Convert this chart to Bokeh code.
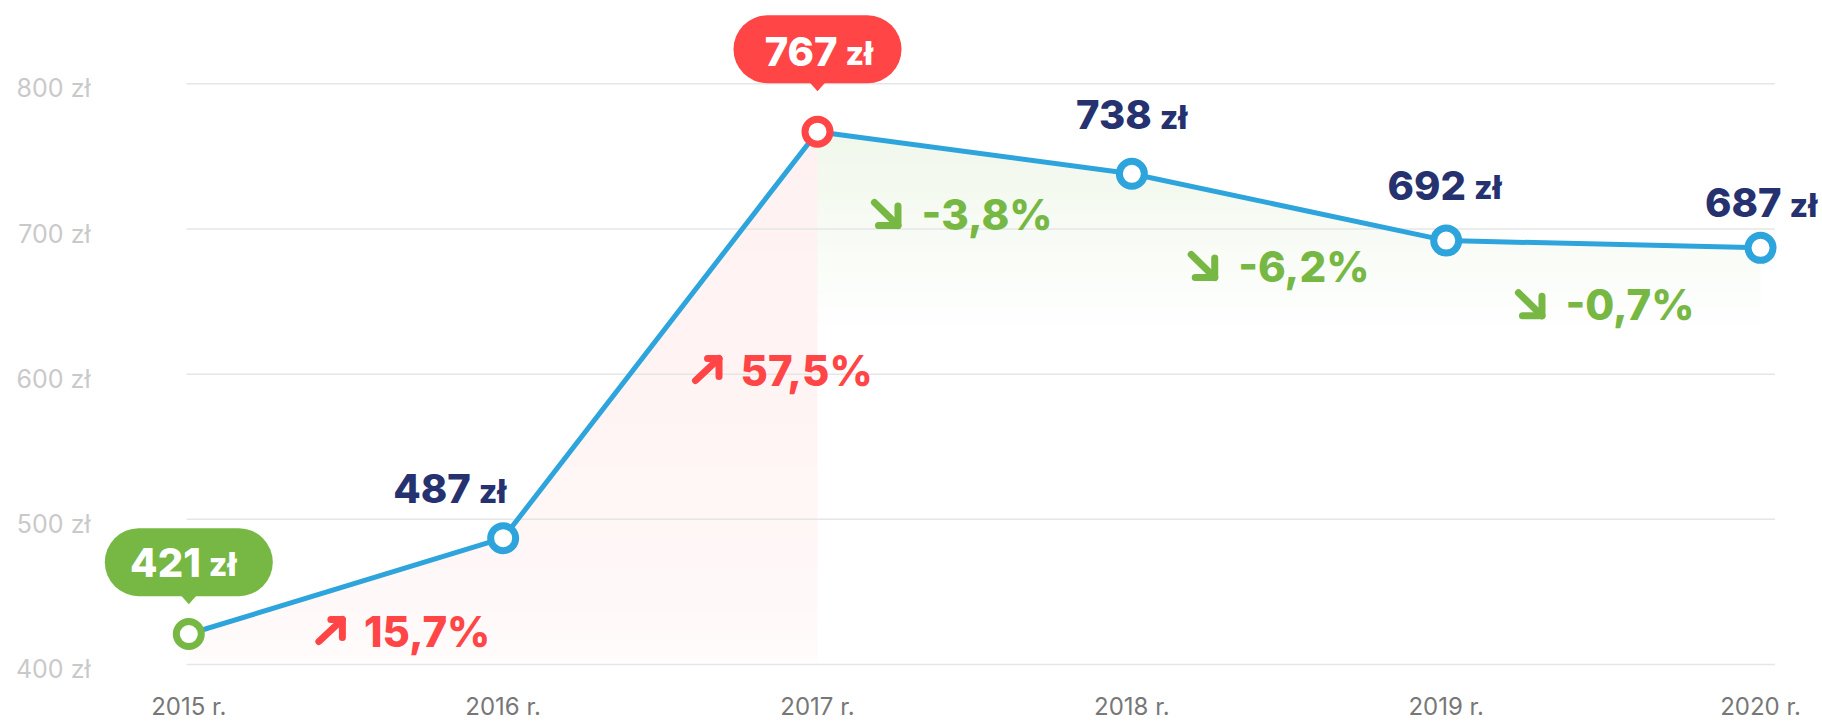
import numpy as np
from bokeh.plotting import figure
from bokeh.models import Range1d, FixedTicker, LinearAxis
from bokeh.core.properties import value
from bokeh.embed import file_html
from bokeh.resources import INLINE

# ---------------- data ----------------
YEARS = [2015, 2016, 2017, 2018, 2019, 2020]
YEAR_LABELS = ["2015 r.", "2016 r.", "2017 r.", "2018 r.", "2019 r.", "2020 r."]
PRICES = [421, 487, 767, 738, 692, 687]
Y_TICKS = [400, 500, 600, 700, 800]
Y_TICK_LABELS = ["400 zł", "500 zł", "600 zł", "700 zł", "800 zł"]
CURRENCY = "zł"

# ---------------- style ----------------
FONT = "Inter"
HEAVY = "'Inter ExtraBold', Inter"
BLUE = "#2ea4dc"
NAVY = "#26316f"
RED = "#ff4545"
GREEN = "#76b843"
GRID = "#e6e6e6"
YLAB = "#c9c9c9"
XLAB = "#777777"

NUM_SIZE = 40
CUR_SIZE = 32
PCT_SIZE = 42
BASE_FIX = 0.36        # em, compensates text baseline placement

W, H = 1822, 724
FRAME_L, FRAME_R, FRAME_T, FRAME_B = 96, 1822, 0, 691
X0_PX = 188.3          # x of first year
PX_X = 314.35          # px per year
V0_PX = 664.0          # y of lowest tick
PX_Y = 1.4518          # px per zł

X_LO = YEARS[0] + (FRAME_L - X0_PX) / PX_X
X_HI = YEARS[0] + (FRAME_R - X0_PX) / PX_X
Y_LO = Y_TICKS[0] - (FRAME_B - V0_PX) / PX_Y
Y_HI = Y_TICKS[0] + (V0_PX - FRAME_T) / PX_Y

# label placement (screen px, +dy = down; baselines)
LABEL_DX = [16.0, -28.4, 24.0, 23.9, 23.7, 25.0]
LABEL_DY = [-57.5, -35.0, -66.2, -45.0, -41.1, -30.6]
BUBBLE_DY = {"min": -71.8, "max": -82.4}
PCT_DX = [17.9, 80.2, -53.2, -50.8, -37.9]
PCT_DY = [60.4, 50.6, 76.8, 74.3, 75.6]

i_min = int(np.argmin(PRICES))
i_max = int(np.argmax(PRICES))


def dxd(px):
    return px / PX_X


def dyd(px):
    return -px / PX_Y


p = figure(width=W, height=H, output_backend="svg", toolbar_location=None, tools="",
           x_range=Range1d(X_LO, X_HI), y_range=Range1d(Y_LO, Y_HI),
           y_axis_location=None,
           min_border_left=FRAME_L, min_border_right=W - FRAME_R,
           min_border_top=FRAME_T, min_border_bottom=H - FRAME_B,
           background_fill_color="white", border_fill_color="white")
p.outline_line_color = None
p.xgrid.visible = False
p.ygrid.visible = False


# ---------------- gradient fills under the line ----------------
def fill_image(i0, i1, rgb, a_max, depth, gamma):
    x0, x1 = YEARS[i0], YEARS[i1]
    v_top = max(PRICES[i0:i1 + 1])
    v_floor = max(Y_TICKS[0], v_top - depth)
    nx = int((x1 - x0) * PX_X / 2)
    ny = int((v_top - v_floor) * PX_Y / 2) + 2
    y1 = v_top + 2 / PX_Y
    xs = x0 + (np.arange(nx) + 0.5) * (x1 - x0) / nx
    ys = v_floor + (np.arange(ny) + 0.5) * (y1 - v_floor) / ny
    line_y = np.interp(xs, YEARS, PRICES)
    pix = (y1 - v_floor) / ny
    cover = np.clip((line_y[None, :] - ys[:, None]) / pix + 0.5, 0, 1)
    grad = np.clip((ys - (v_top - depth)) / depth, 0, 1) ** gamma
    alpha = a_max * grad[:, None] * cover
    img = np.zeros((ny, nx), dtype=np.uint32)
    view = img.view(dtype=np.uint8).reshape((ny, nx, 4))
    view[..., 0] = rgb[0]
    view[..., 1] = rgb[1]
    view[..., 2] = rgb[2]
    view[..., 3] = np.round(alpha * 255).astype(np.uint8)
    p.image_rgba(image=[img], x=x0, y=v_floor, dw=x1 - x0, dh=y1 - v_floor)


fill_image(0, i_max, (255, 69, 69), 0.075, max(PRICES) - Y_TICKS[0], 0.35)
fill_image(i_max, len(YEARS) - 1, (118, 184, 67), 0.11, 140, 1.0)

# ---------------- grid lines ----------------
gx0 = YEARS[0] + (186 - X0_PX) / PX_X
gx1 = YEARS[0] + (1774.4 - X0_PX) / PX_X
p.segment(x0=[gx0] * len(Y_TICKS), x1=[gx1] * len(Y_TICKS), y0=Y_TICKS, y1=Y_TICKS,
          line_color=GRID, line_width=1.5)

# ---------------- line + markers ----------------
p.line(YEARS, PRICES, line_width=5, line_color=BLUE, line_join="round")
pt_colors = [GREEN if i == i_min else RED if i == i_max else BLUE for i in range(len(YEARS))]
p.scatter(YEARS, PRICES, size=25, line_width=7, fill_color="white", line_color=pt_colors)

# ---------------- bubbles for min / max ----------------
for key, idx, col in (("min", i_min, GREEN), ("max", i_max, RED)):
    cy = PRICES[idx] + dyd(BUBBLE_DY[key])
    p.rect(x=[YEARS[idx]], y=[cy], width=168, height=68, width_units="screen",
           height_units="screen", fill_color=col, line_color=None, border_radius=34)
    yb = PRICES[idx] + dyd(BUBBLE_DY[key] + 33)
    yt = PRICES[idx] + dyd(BUBBLE_DY[key] + 42)
    p.patch(x=[YEARS[idx] - dxd(8), YEARS[idx] + dxd(8), YEARS[idx]], y=[yb, yb, yt],
            fill_color=col, line_color=None)

# ---------------- value labels ----------------
for i, (yr, pr) in enumerate(zip(YEARS, PRICES)):
    col = "white" if i in (i_min, i_max) else NAVY
    p.text(x=[yr], y=[pr], text=[str(pr)], x_offset=LABEL_DX[i] - 4,
           y_offset=LABEL_DY[i] - BASE_FIX * NUM_SIZE,
           text_align="right", text_baseline="alphabetic", text_font=value(HEAVY),
           text_font_style="bold", text_font_size=f"{NUM_SIZE}px", text_color=col)
    p.text(x=[yr], y=[pr], text=[CURRENCY], x_offset=LABEL_DX[i] + 4,
           y_offset=LABEL_DY[i] - BASE_FIX * CUR_SIZE,
           text_align="left", text_baseline="alphabetic", text_font=value(HEAVY),
           text_font_style="bold", text_font_size=f"{CUR_SIZE}px", text_color=col)

# ---------------- percentage changes ----------------
UP = [[(-45, -5), (-21.5, -27)], [(-33, -27), (-21.5, -27), (-21.5, -9)]]
DOWN = [[(-47, -27), (-23.5, -4)], [(-43, -4), (-23.5, -4), (-23.5, -23.5)]]
for i in range(len(YEARS) - 1):
    change = (PRICES[i + 1] / PRICES[i] - 1) * 100
    txt = f"{change:.1f}".replace(".", ",") + "%"
    col = RED if change > 0 else GREEN
    mx = (YEARS[i] + YEARS[i + 1]) / 2
    mv = (PRICES[i] + PRICES[i + 1]) / 2
    p.text(x=[mx], y=[mv], text=[txt], x_offset=PCT_DX[i],
           y_offset=PCT_DY[i] - BASE_FIX * PCT_SIZE,
           text_align="left", text_baseline="alphabetic", text_font=value(HEAVY),
           text_font_style="bold", text_font_size=f"{PCT_SIZE}px", text_color=col)
    shape = UP if change > 0 else DOWN
    xs = [[mx + dxd(PCT_DX[i] + ax) for ax, ay in seg] for seg in shape]
    ys = [[mv + dyd(PCT_DY[i] + ay) for ax, ay in seg] for seg in shape]
    p.multi_line(xs=xs, ys=ys, line_color=col, line_width=7, line_cap="round",
                 line_join="round")

# ---------------- axes ----------------
p.xaxis.ticker = FixedTicker(ticks=YEARS)
p.xaxis.major_label_overrides = {y: l for y, l in zip(YEARS, YEAR_LABELS)}
p.xaxis.axis_line_color = None
p.xaxis.major_tick_line_color = None
p.xaxis.minor_tick_line_color = None
p.xaxis.major_tick_out = 0
p.xaxis.major_tick_in = 0
p.xaxis.major_label_standoff = 0
p.xaxis.major_label_text_font = FONT
p.xaxis.major_label_text_font_size = "24px"
p.xaxis.major_label_text_color = XLAB

shift = 4.7 / PX_Y
p.extra_y_ranges = {"lab": Range1d(Y_LO + shift, Y_HI + shift)}
yax = LinearAxis(y_range_name="lab", ticker=FixedTicker(ticks=Y_TICKS),
                 major_label_overrides={t: l for t, l in zip(Y_TICKS, Y_TICK_LABELS)},
                 axis_line_color=None, major_tick_line_color=None,
                 minor_tick_line_color=None, major_tick_out=0, major_tick_in=0,
                 major_label_standoff=6, major_label_text_font=FONT,
                 major_label_text_font_size="25px", major_label_text_color=YLAB)
p.add_layout(yax, "left")

open("out.html", "w").write(file_html(p, INLINE))
